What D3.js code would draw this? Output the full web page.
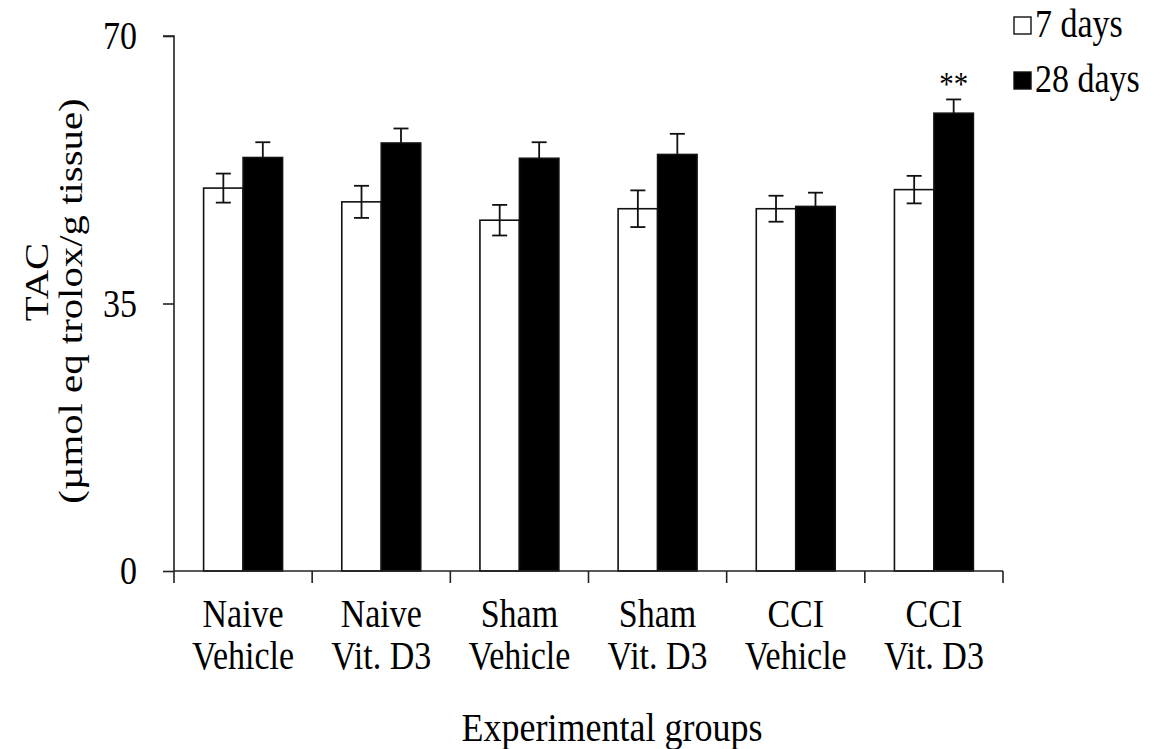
<!DOCTYPE html>
<html>
<head>
<meta charset="utf-8">
<script src="https://cdn.jsdelivr.net/npm/d3@7"></script>
<style>
  body { margin: 0; background: #fff; }
  svg text { font-family: "Liberation Serif", "Times New Roman", serif; fill: #000; }
</style>
</head>
<body>
<div id="chart"></div>
<script>
// group labels (two lines each)
const groupTop = ["Naive", "Naive", "Sham", "Sham", "CCI", "CCI"];
const groupBottom = ["Vehicle", "Vit. D3", "Vehicle", "Vit. D3", "Vehicle", "Vit. D3"];
const seriesNames = ["7 days", "28 days"];

// TAC values
const days7 = [50.1, 48.3, 45.9, 47.4, 47.4, 49.9];
const days7Err = [1.9, 2.1, 2.0, 2.4, 1.7, 1.8];
const days28 = [54.1, 56.0, 54.0, 54.5, 47.7, 59.9];
const days28Err = [2.0, 1.9, 2.1, 2.7, 1.8, 1.8];
const marks = ["", "", "", "", "", "**"];

const yTicks = [0, 35, 70];

const width = 1154, height = 749;
const svg = d3.select('#chart').append('svg')
  .attr('width', width)
  .attr('height', height);

const x0 = 174, x1 = 1003, yBottom = 571, yTop = 36;

// text helper: tall, narrow serif glyphs like the original
function label(parent, x, y, str, size, anchor, sx) {
  return parent.append('text')
    .attr('transform', `translate(${x},${y}) scale(${sx || 0.85},1)`)
    .attr('text-anchor', anchor || 'middle')
    .style('font-size', size + 'px')
    .text(str);
}

const groupIds = groupTop.map((d, i) => i);
const xScale = d3.scaleBand().domain(groupIds).range([x0, x1]).padding(0);
const xSub = d3.scaleBand().domain([0, 1]).range([0, xScale.bandwidth()])
  .paddingInner(0).paddingOuter(0.75);
const yScale = d3.scaleLinear().domain([0, 70]).range([yBottom, yTop]);

// bars
const flat = groupIds.map(i => [
  { g: i, s: 0, v: days7[i], e: days7Err[i] },
  { g: i, s: 1, v: days28[i], e: days28Err[i] }
]).flat();

svg.selectAll('rect.bar')
  .data(flat)
  .enter()
  .append('rect')
  .attr('class', 'bar')
  .attr('x', d => xScale(d.g) + xSub(d.s))
  .attr('y', d => yScale(d.v))
  .attr('width', xSub.bandwidth())
  .attr('height', d => yScale(0) - yScale(d.v))
  .style('fill', d => d.s === 0 ? '#fff' : '#000')
  .style('stroke', '#111')
  .style('stroke-width', 1.6);

// error bars
const cap = 7.5;
const err = svg.selectAll('g.err')
  .data(flat)
  .enter()
  .append('g')
  .attr('class', 'err')
  .attr('transform', d => `translate(${xScale(d.g) + xSub(d.s) + xSub.bandwidth() / 2},0)`);

err.append('line')
  .attr('y1', d => yScale(d.s === 0 ? d.v - d.e : d.v))
  .attr('y2', d => yScale(d.v + d.e))
  .style('stroke', '#111').style('stroke-width', 1.8);
err.append('line')
  .attr('x1', -cap).attr('x2', cap)
  .attr('y1', d => yScale(d.v + d.e)).attr('y2', d => yScale(d.v + d.e))
  .style('stroke', '#111').style('stroke-width', 1.8);
err.filter(d => d.s === 0).append('line')
  .attr('x1', -cap).attr('x2', cap)
  .attr('y1', d => yScale(d.v - d.e)).attr('y2', d => yScale(d.v - d.e))
  .style('stroke', '#111').style('stroke-width', 1.8);

// significance marks
flat.filter(d => d.s === 1 && marks[d.g]).forEach(d => {
  label(svg, xScale(d.g) + xSub(1) + xSub.bandwidth() / 2, yScale(d.v + d.e) - 4, marks[d.g], 34);
});

// y axis
const yAxis = svg.append('g')
  .attr('transform', `translate(${x0},0)`)
  .call(d3.axisLeft(yScale).tickValues(yTicks).tickSize(11).tickFormat(''));
yAxis.select('.domain').attr('d', `M-11,${yTop}H0V${yBottom}`)
  .style('stroke', '#222').style('stroke-width', 1.6);
yAxis.selectAll('.tick line').style('stroke', '#222').style('stroke-width', 1.6);
yTicks.forEach(t => {
  label(svg, x0 - 37, yScale(t) + 13, String(t), 40, 'end');
});

// x axis: line and ticks on group boundaries
svg.append('line')
  .attr('x1', x0).attr('x2', x1)
  .attr('y1', yBottom).attr('y2', yBottom)
  .style('stroke', '#222').style('stroke-width', 1.6);
const bounds = groupIds.map(i => xScale(i)).concat([x1]);
svg.selectAll('line.xtick')
  .data(bounds)
  .enter()
  .append('line')
  .attr('class', 'xtick')
  .attr('x1', d => d).attr('x2', d => d)
  .attr('y1', yBottom).attr('y2', yBottom + 12)
  .style('stroke', '#222').style('stroke-width', 1.6);

groupIds.forEach(i => {
  const cx = xScale(i) + xScale.bandwidth() / 2;
  label(svg, cx, 627, groupTop[i], 40);
  label(svg, cx, 669, groupBottom[i], 40);
});

// axis titles
label(svg, 612, 741, 'Experimental groups', 40, 'middle', 0.9);

const yTitle = svg.append('g')
  .attr('transform', 'rotate(-90) scale(1.2,1)');
yTitle.append('text').attr('x', -282 / 1.2).attr('y', 48)
  .attr('text-anchor', 'middle').style('font-size', '34px').text('TAC');
yTitle.append('text').attr('x', -301 / 1.2).attr('y', 82)
  .attr('text-anchor', 'middle').style('font-size', '34px').text('(µmol eq trolox/g tissue)');

// legend
const legend = svg.append('g').attr('transform', 'translate(1013,0)');
seriesNames.forEach((name, i) => {
  legend.append('rect')
    .attr('x', 1).attr('y', 17 + i * 55)
    .attr('width', 17).attr('height', 17)
    .style('fill', i === 0 ? '#fff' : '#000')
    .style('stroke', '#111').style('stroke-width', 1.4);
  label(legend, 22, 37 + i * 55, name, 40, 'start');
});
</script>
</body>
</html>
